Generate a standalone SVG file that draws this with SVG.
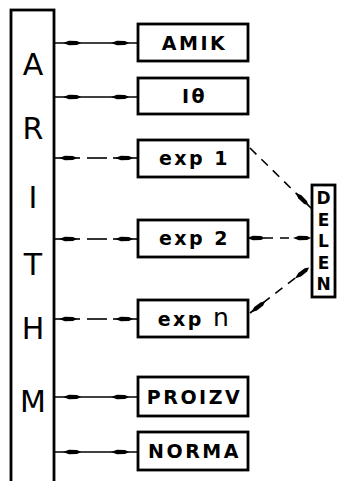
<svg xmlns="http://www.w3.org/2000/svg" width="346" height="481" viewBox="0 0 346 481">
<style>
.box{fill:#fff;stroke:#000;stroke-width:2.8}
.lbl{font-family:"DejaVu Sans","Liberation Sans",sans-serif;font-size:19px;font-weight:bold;letter-spacing:2.5px;text-anchor:middle;fill:#000}
.big{font-family:"DejaVu Sans","Liberation Sans",sans-serif;font-size:30px;text-anchor:middle;fill:#000}
.vert{font-family:"DejaVu Sans","Liberation Sans",sans-serif;font-size:17px;font-weight:bold;writing-mode:vertical-lr;text-orientation:upright;letter-spacing:1.5px;fill:#000}
.ln{stroke:#000;stroke-width:1.6;fill:none}
.dash{stroke:#000;stroke-width:1.6;fill:none;stroke-dasharray:9 7}
</style>
<defs>
<path id="tk" d="M-9,0 L-3,-2.2 L5,-2 L9,0 L5,2 L-3,2.2 Z" fill="#000"/>
</defs>
<g id="ARITHM">
<rect class="box" x="11" y="10" width="43" height="480"/>
<text class="big" x="33" y="75">A</text>
<text class="big" x="33" y="139">R</text>
<text class="big" x="33" y="208">I</text>
<text class="big" x="33" y="275">T</text>
<text class="big" x="33" y="339">H</text>
<text class="big" x="33" y="412">M</text>
</g>
<g id="AMIK"><rect class="box" x="138" y="24" width="110" height="37"/><text class="lbl" x="194.5" y="50">AMIK</text></g>
<g id="I0"><rect class="box" x="138" y="78" width="110" height="36"/><text class="lbl" x="194.5" y="103">Iθ</text></g>
<g id="exp1"><rect class="box" x="138" y="140" width="110" height="37"/><text class="lbl" x="194.5" y="165">exp 1</text></g>
<g id="exp2"><rect class="box" x="138" y="220" width="110" height="37"/><text class="lbl" x="194.5" y="245">exp 2</text></g>
<g id="expn"><rect class="box" x="138" y="300" width="110" height="37"/><text class="lbl" x="194.5" y="326">exp <tspan font-size="25px" font-weight="normal">n</tspan></text></g>
<g id="PROIZV"><rect class="box" x="138" y="377" width="110" height="39"/><text class="lbl" x="194.5" y="404">PROIZV</text></g>
<g id="NORMA"><rect class="box" x="138" y="432" width="110" height="38"/><text class="lbl" x="194.5" y="458">NORMA</text></g>
<g id="DELEN"><rect class="box" x="312" y="185" width="23" height="112"/>
<text class="vert" x="323.5" y="188">DELEN</text>
</g>
<g id="connectors">
<line class="ln" x1="54" y1="43" x2="138" y2="43"/>
<use href="#tk" x="72" y="43"/><use href="#tk" x="120" y="43"/>
<line class="ln" x1="54" y1="97" x2="138" y2="97"/>
<use href="#tk" x="72" y="97"/><use href="#tk" x="120" y="97"/>
<line class="ln" x1="54" y1="397" x2="138" y2="397"/>
<use href="#tk" x="72" y="397"/><use href="#tk" x="120" y="397"/>
<line class="ln" x1="54" y1="452" x2="138" y2="452"/>
<use href="#tk" x="72" y="452"/><use href="#tk" x="120" y="452"/>
<line class="ln" x1="54" y1="158" x2="80" y2="158"/><line class="ln" x1="87" y1="158" x2="107" y2="158"/><line class="ln" x1="113" y1="158" x2="138" y2="158"/>
<use href="#tk" x="68" y="158"/><use href="#tk" x="124" y="158"/>
<line class="ln" x1="54" y1="239" x2="80" y2="239"/><line class="ln" x1="87" y1="239" x2="107" y2="239"/><line class="ln" x1="113" y1="239" x2="138" y2="239"/>
<use href="#tk" x="68" y="239"/><use href="#tk" x="124" y="239"/>
<line class="ln" x1="54" y1="319" x2="80" y2="319"/><line class="ln" x1="87" y1="319" x2="107" y2="319"/><line class="ln" x1="113" y1="319" x2="138" y2="319"/>
<use href="#tk" x="68" y="319"/><use href="#tk" x="124" y="319"/>
<line class="dash" x1="248" y1="238" x2="312" y2="238"/>
<use href="#tk" x="256" y="238"/><use href="#tk" x="302" y="238"/>
<line class="dash" x1="250" y1="148" x2="312" y2="209"/>
<use href="#tk" transform="translate(302,199) rotate(44.5)"/>
<line class="dash" x1="250" y1="313" x2="312" y2="265"/>
<use href="#tk" transform="translate(258,307) rotate(-37.7)"/><use href="#tk" transform="translate(302,273) rotate(-37.7)"/>
</g>
</svg>
